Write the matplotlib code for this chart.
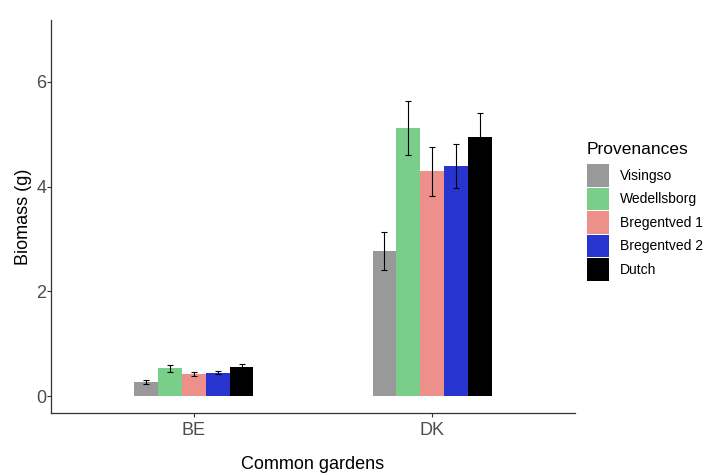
import matplotlib
matplotlib.use("Agg")
import matplotlib.pyplot as plt
from matplotlib.patches import Patch
import numpy as np

plt.rcParams['font.family'] = ['Liberation Sans', 'DejaVu Sans']

gardens = ["BE", "DK"]
provenances = ["Visingso", "Wedellsborg", "Bregentved 1", "Bregentved 2", "Dutch"]
colors = ["#999999", "#79CE8A", "#ED8F8A", "#2834D0", "#000000"]

biomass = {
    "Visingso":     [0.27, 2.77],
    "Wedellsborg":  [0.53, 5.12],
    "Bregentved 1": [0.43, 4.29],
    "Bregentved 2": [0.45, 4.39],
    "Dutch":        [0.55, 4.95],
}
errors = {
    "Visingso":     [0.045, 0.37],
    "Wedellsborg":  [0.065, 0.52],
    "Bregentved 1": [0.04, 0.46],
    "Bregentved 2": [0.025, 0.42],
    "Dutch":        [0.06, 0.45],
}

fig = plt.figure(figsize=(7.06, 4.75), dpi=100)
ax = fig.add_axes([0.0722, 0.1305, 0.7422, 0.8275])

x = np.arange(1, len(gardens) + 1)
width = 0.1
n = len(provenances)
for i, (p, c) in enumerate(zip(provenances, colors)):
    off = (i - (n - 1) / 2) * width
    ax.bar(x + off, biomass[p], width=width, color=c, edgecolor="none")
    ax.errorbar(x + off, biomass[p], yerr=errors[p], fmt="none",
                ecolor="black", elinewidth=0.8, capsize=2.2, capthick=0.8)

ax.set_xlim(0.4, 2.6)
ax.set_ylim(-0.32, 7.18)
ax.set_xticks(x)
ax.set_xticklabels(gardens)
ax.set_yticks([0, 2, 4, 6])
ax.tick_params(axis="both", colors="#333333", labelcolor="#4D4D4D",
               labelsize=13, length=3, width=0.8)
ax.tick_params(axis="y", pad=0.4)
for s in ["top", "right"]:
    ax.spines[s].set_visible(False)
for s in ["left", "bottom"]:
    ax.spines[s].set_color("#333333")
    ax.spines[s].set_linewidth(0.9)

ax.set_xlabel("Common gardens", fontsize=13, labelpad=12)
ax.set_ylabel("Biomass (g)", fontsize=13, labelpad=3)

handles = [Patch(facecolor=c, edgecolor="none") for c in colors]
leg = fig.legend(handles, provenances, title="Provenances",
                 loc="upper left", bbox_to_anchor=(0.823, 0.712),
                 frameon=False, fontsize=10, title_fontsize=12.5,
                 handlelength=1.58, handleheight=2.1, handletextpad=0.8,
                 labelspacing=0.08, borderaxespad=0)
leg._legend_box.align = "left"
leg._legend_box.sep = 5

fig.savefig("out.png", dpi=100)
